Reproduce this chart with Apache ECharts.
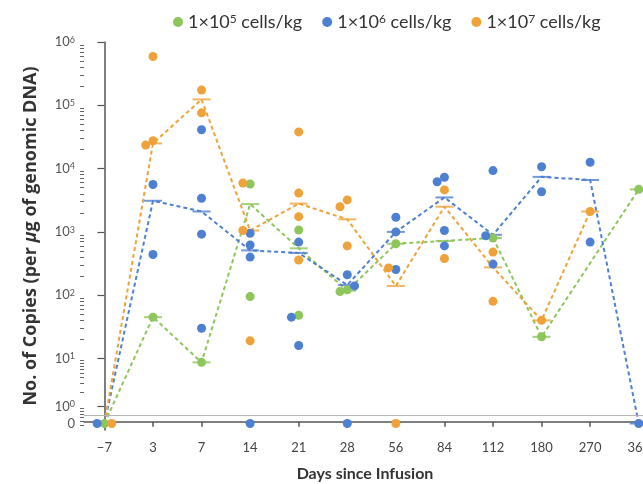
<!DOCTYPE html>
<html><head><meta charset="utf-8">
<script src="https://cdn.jsdelivr.net/npm/echarts@6/dist/echarts.min.js"></script>
<style>html,body{margin:0;padding:0;background:#fff}#c{width:643px;height:484px}</style>
</head><body><div id="c"></div>
<script>
// ---- data (copies per µg genomic DNA; 0 = undetectable) ----
const days = ['\u22127','3','7','14','21','28','56','84','112','180','270','365'];
const doseNames = ['1×10^5 cells/kg','1×10^6 cells/kg','1×10^7 cells/kg'];
const doseExp = ['5','6','7'];

const greenPoints = [[0],[45],[8.3],[5700,95],[1070,48],[122,114],[650],[],[800],[22],[],[4700]];
const bluePoints  = [[0],[5600,440],[41000,3400,920,30],[950,620,400,0],[690,45,16],[210,140,0],[1700,1000,255],[7300,6200,1050,600],[9300,870,310],[10700,4300],[12600,690],[0]];
const orangePoints= [[0],[590000,27500,23500],[174000,76000],[5900,1050,19],[38000,4100,1740,360],[3200,2500,600],[270,0],[4600,380],[480,80],[40],[2100],[]];

const greenMedian  = [0,45,8.3,2750,550,118,650,720,800,22,null,4700];
const blueMedian   = [0,3100,2100,510,465,145,1000,3500,900,7400,6600,0];
const orangeMedian = [0,25000,124000,1050,2800,1580,140,2500,275,40,2100,null];

const yDecades = [1,2,3,4,5,6];

// ---- scale helpers ----
const colors = ['#8dc65b','#4d80d0','#f0a23a'];
const ZERO_POS = -0.027, ONE_POS = 0.242, CUT_POS = 0.107;
function pos(v){
  if (v === 0) return ZERO_POS;
  const l = Math.log10(v);
  return l >= 1 ? l : 1 - (1 - l) * (1 - ONE_POS);
}
const majorTicks = [ZERO_POS, ONE_POS].concat(yDecades);
const minorTicks = [];
for (let m = 4; m <= 9; m++) minorTicks.push(pos(m/10));
for (let m = 2; m <= 9; m++) minorTicks.push(pos(m));
for (let k = 1; k <= 5; k++) for (let m = 2; m <= 9; m++) minorTicks.push(k + Math.log10(m));

// dodge overlapping dots horizontally
const pointSets = [greenPoints, bluePoints, orangePoints];
const dotData = [[],[],[]];
for (let i = 0; i < days.length; i++){
  const placed = [];
  pointSets.forEach((set, s) => {
    (set[i] || []).forEach(v => {
      const p = pos(v);
      const cands = [0,-0.15,0.15,-0.3,0.3,-0.45,0.45];
      let dx = 0;
      for (const c of cands){
        if (!placed.some(q => Math.abs(q.x - c) < 0.12 && Math.abs(q.p - p) < 0.15)) { dx = c; break; }
      }
      placed.push({x: dx, p: p});
      dotData[s].push([i + dx, p]);
    });
  });
}
const medians = [greenMedian, blueMedian, orangeMedian];
const medLine = medians.map(arr => arr.map((v,i) => v === null ? null : [i, pos(v)]).filter(d => d));

const font = 'Lato, "Open Sans", sans-serif';
const series = [];
medLine.forEach((d, s) => {
  series.push({
    type: 'line', data: d, symbol: 'none', z: 2, silent: true,
    lineStyle: {color: colors[s], width: 2, type: [4,3]},
    markLine: s === 0 ? {
      silent: true, symbol: ['none','none'], label: {show: false},
      lineStyle: {color: '#b4b4b4', width: 1, type: 'solid'},
      data: [{yAxis: CUT_POS}]
    } : undefined
  });
});
medLine.forEach((d, s) => {
  series.push({
    type: 'scatter', data: d, symbol: 'rect', symbolSize: [18, 2], z: 3, silent: true,
    itemStyle: {color: colors[s]}
  });
});
dotData.forEach((d, s) => {
  series.push({
    name: doseNames[s], type: 'scatter', data: d, symbol: 'circle', symbolSize: 9, z: 4,
    itemStyle: {color: colors[s], opacity: 1}
  });
});

const supRich = (size, color) => ({
  b: {fontSize: size, fontFamily: font, color: color, lineHeight: size, verticalAlign: 'bottom'},
  s: {fontSize: Math.round(size*0.68), fontFamily: font, color: color, lineHeight: Math.round(size*0.68), verticalAlign: 'top', padding: [0,0,Math.round(size*0.4),0]}
});

const option = {
  animation: false,
  backgroundColor: '#fff',
  legend: {
    data: doseNames, left: 168, top: 8, icon: 'circle', itemWidth: 10, itemHeight: 10, itemGap: 20,
    formatter: name => '{b|1×10}{s|' + doseExp[doseNames.indexOf(name)] + '}{b| cells/kg}',
    textStyle: {rich: supRich(18, '#333')}
  },
  grid: {left: 84, top: 42, width: 579, height: 388, outerBoundsMode: 'none', containLabel: false},
  xAxis: {
    type: 'value', min: -0.42, max: 11.5,
    name: 'Days since Infusion', nameLocation: 'middle', nameGap: 36,
    nameTextStyle: {fontFamily: font, fontSize: 16, fontWeight: 'bold', color: '#333', padding: [0,17,0,0]},
    axisLine: {lineStyle: {color: '#555', width: 1.5}},
    axisTick: {customValues: days.map((d,i) => i), length: 5, lineStyle: {color: '#555', width: 1.5}},
    axisLabel: {customValues: days.map((d,i) => i), formatter: v => days[Math.round(v)], margin: 11,
      fontFamily: font, fontSize: 13, color: '#444'},
    splitLine: {show: false}
  },
  yAxis: [{
    type: 'value', min: -0.13, max: 6,
    name: '{b|No. of Copies (per }{i|\u03bc}{b|g of genomic DNA)}', nameLocation: 'middle', nameGap: 44,
    nameTextStyle: {rich: {
      b: {fontFamily: '"Open Sans", Lato, sans-serif', fontSize: 18, fontWeight: 'bold', color: '#333'},
      i: {fontFamily: '"Open Sans", Lato, sans-serif', fontSize: 18, fontWeight: 'bold', fontStyle: 'italic', color: '#333'}
    }},
    axisLine: {show: true, lineStyle: {color: '#555', width: 1.5}},
    axisTick: {show: true, customValues: majorTicks, length: 7, lineStyle: {color: '#555', width: 1.2}},
    axisLabel: {customValues: majorTicks, margin: 9,
      formatter: v => Math.abs(v - ZERO_POS) < 1e-6 ? '{b|0}' :
        '{b|10}{s|' + (Math.abs(v - ONE_POS) < 1e-6 ? 0 : Math.round(v)) + '}',
      rich: supRich(13, '#555')},
    splitLine: {show: false}
  }, {
    type: 'value', min: -0.13, max: 6, position: 'left',
    axisLine: {show: false},
    axisTick: {show: true, customValues: minorTicks, length: 4, lineStyle: {color: '#666', width: 1}},
    axisLabel: {show: false},
    splitLine: {show: false}
  }],
  series: series
};
const chart = echarts.init(document.getElementById('c'), null, {renderer: 'canvas'});
chart.setOption(option);
</script></body></html>
